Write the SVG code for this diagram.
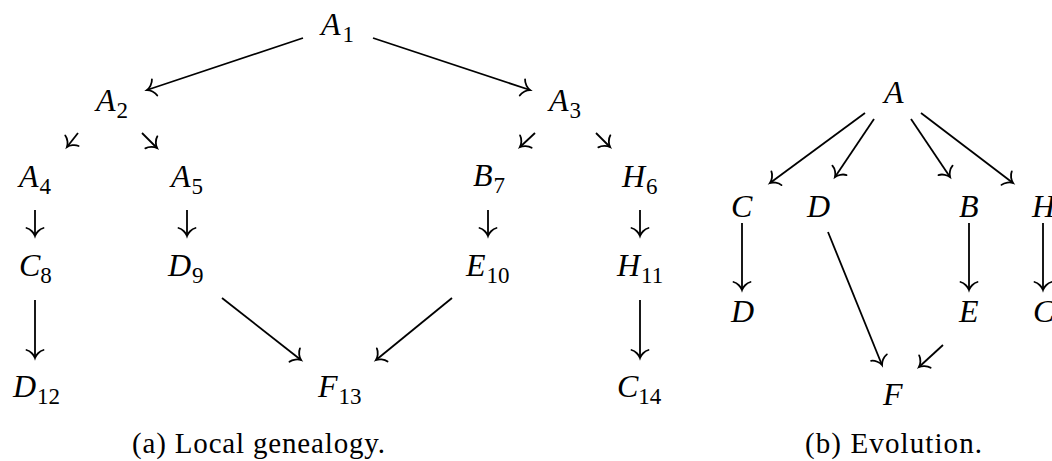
<svg xmlns="http://www.w3.org/2000/svg" width="1052" height="461" viewBox="0 0 1052 461">
<style>
.m{font-family:"Liberation Serif","Times New Roman",serif;font-style:italic;font-size:32px;fill:#000}
.s{font-style:normal;font-size:23px}
.cap{font-family:"Liberation Serif","Times New Roman",serif;font-size:29px;fill:#000;text-anchor:middle}
.e{stroke:#000;stroke-width:1.8;fill:none;marker-end:url(#to)}
</style>
<defs>
<marker id="to" markerUnits="userSpaceOnUse" viewBox="-10 -10 12 20" refX="0" refY="0" markerWidth="12" markerHeight="20" orient="auto" overflow="visible">
<path d="M-8,-8.5 C-7,-4.5 -3,-1 0,0 C-3,1 -7,4.5 -8,8.5" fill="none" stroke="#000" stroke-width="1.8" stroke-linecap="round"/>
</marker>
</defs>
<rect width="1052" height="461" fill="#fff"/>
<g id="connectors">
<line class="e" x1="303" y1="38" x2="147" y2="90"/>
<line class="e" x1="373" y1="38" x2="530" y2="90"/>
<line class="e" x1="78" y1="133" x2="67" y2="147"/>
<line class="e" x1="142" y1="133" x2="157" y2="148"/>
<line class="e" x1="535" y1="133" x2="520" y2="147"/>
<line class="e" x1="596" y1="133" x2="610" y2="147"/>
<line class="e" x1="35" y1="210" x2="35" y2="236"/>
<line class="e" x1="187" y1="210" x2="187" y2="236"/>
<line class="e" x1="488" y1="210" x2="488" y2="236"/>
<line class="e" x1="640" y1="210" x2="640" y2="236"/>
<line class="e" x1="35" y1="300" x2="35" y2="358"/>
<line class="e" x1="222" y1="298" x2="301" y2="360"/>
<line class="e" x1="452" y1="298" x2="376" y2="360"/>
<line class="e" x1="640" y1="300" x2="640" y2="358"/>
<line class="e" x1="865" y1="113" x2="770" y2="183"/>
<line class="e" x1="874" y1="119" x2="835" y2="177"/>
<line class="e" x1="911" y1="119" x2="950" y2="177"/>
<line class="e" x1="921" y1="113" x2="1013" y2="183"/>
<line class="e" x1="742" y1="223" x2="742" y2="290"/>
<line class="e" x1="828" y1="232" x2="882" y2="365"/>
<line class="e" x1="969" y1="223" x2="969" y2="290"/>
<line class="e" x1="1043" y1="223" x2="1043" y2="290"/>
<line class="e" x1="943" y1="345" x2="919" y2="367"/>
</g>
<g id="A1"><text class="m" x="321" y="35">A<tspan class="s" dx="2" dy="7">1</tspan></text></g>
<g id="A2"><text class="m" x="96" y="111">A<tspan class="s" dx="1" dy="7">2</tspan></text></g>
<g id="A3"><text class="m" x="549" y="111">A<tspan class="s" dx="1" dy="7">3</tspan></text></g>
<g id="A4"><text class="m" x="19" y="187">A<tspan class="s" dx="1" dy="7">4</tspan></text></g>
<g id="A5"><text class="m" x="171" y="187">A<tspan class="s" dx="1" dy="7">5</tspan></text></g>
<g id="B7"><text class="m" x="473" y="186">B<tspan class="s" dx="1" dy="7">7</tspan></text></g>
<g id="H6"><text class="m" x="622" y="187">H<tspan class="s" dx="1" dy="7">6</tspan></text></g>
<g id="C8"><text class="m" x="19" y="276">C<tspan class="s" dx="0" dy="7">8</tspan></text></g>
<g id="D9"><text class="m" x="168" y="276">D<tspan class="s" dx="1" dy="7">9</tspan></text></g>
<g id="E10"><text class="m" x="466" y="276">E<tspan class="s" dx="1" dy="7">10</tspan></text></g>
<g id="H11"><text class="m" x="617" y="276">H<tspan class="s" dx="1" dy="7">11</tspan></text></g>
<g id="D12"><text class="m" x="13" y="397">D<tspan class="s" dx="1" dy="7">12</tspan></text></g>
<g id="F13"><text class="m" x="318" y="397">F<tspan class="s" dx="1" dy="7">13</tspan></text></g>
<g id="C14"><text class="m" x="617" y="397">C<tspan class="s" dx="0" dy="7">14</tspan></text></g>
<g id="capA"><text class="cap" x="258.5" y="453" textLength="253" lengthAdjust="spacing">(a) Local genealogy.</text></g>
<g id="bA"><text class="m" x="884" y="103">A</text></g>
<g id="bC"><text class="m" x="731" y="217">C</text></g>
<g id="bD"><text class="m" x="807" y="217">D</text></g>
<g id="bB"><text class="m" x="959" y="217">B</text></g>
<g id="bH"><text class="m" x="1032" y="217">H</text></g>
<g id="bD2"><text class="m" x="731" y="322">D</text></g>
<g id="bE"><text class="m" x="959" y="322">E</text></g>
<g id="bC2"><text class="m" x="1033" y="322">C</text></g>
<g id="bF"><text class="m" x="883" y="405">F</text></g>
<g id="capB"><text class="cap" x="893.5" y="453" textLength="177" lengthAdjust="spacing">(b) Evolution.</text></g>
</svg>
